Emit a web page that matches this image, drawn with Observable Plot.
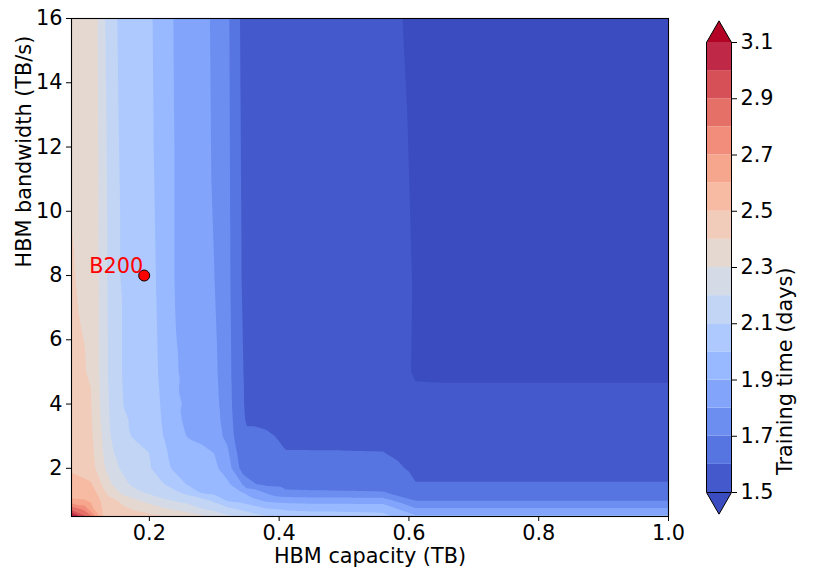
<!DOCTYPE html>
<html>
<head>
<meta charset="utf-8">
<script src="https://cdn.jsdelivr.net/npm/d3@7"></script>
<script src="https://cdn.jsdelivr.net/npm/@observablehq/plot@0.6"></script>
<style>
html, body { margin: 0; padding: 0; background: #ffffff; }
#chart { position: relative; width: 830px; height: 581px; }
#chart svg { position: absolute; left: 0; top: 0; }
</style>
</head>
<body>
<div id="chart"></div>
<script>
// ---- grid of the sampled design space ----
const capacityTB = [0.08, 0.10, 0.11, 0.12, 0.13, 0.14, 0.15, 0.16, 0.18, 0.20, 0.22, 0.24, 0.26,
                    0.28, 0.30, 0.32, 0.34, 0.35, 0.38, 0.41, 0.45, 0.50, 0.56, 0.61, 0.70, 1.00];
const bandwidthTBs = [0.5, 0.75, 1.0, 1.25, 1.5, 2.0, 2.5, 3.0, 3.5, 4.0, 4.5, 5.0, 8.0, 12.0, 16.0];

// ---- training time (days), one row per bandwidth, one value per capacity ----
const days_bw0_50 = [3.15, 2.92, 2.82, 2.64, 2.49, 2.48, 2.47, 2.46, 2.44, 2.43, 2.41, 2.38, 2.355, 2.32, 2.28, 2.22, 2.18, 2.16, 2.11, 2.06, 2.05, 2.04, 2.03, 1.92, 1.92, 1.92];
const days_bw0_75 = [2.85, 2.76, 2.63, 2.55, 2.48, 2.46, 2.44, 2.42, 2.38, 2.34, 2.31, 2.28, 2.24, 2.199, 2.16, 2.12, 2.08, 2.06, 2.001, 1.98, 1.97, 1.97, 1.965, 1.805, 1.805, 1.805];
const days_bw1_00 = [2.61, 2.605, 2.59, 2.53, 2.46, 2.43, 2.401, 2.36, 2.31, 2.27, 2.22, 2.19, 2.17, 2.14, 2.08, 1.99, 1.97, 1.95, 1.88, 1.86, 1.85, 1.85, 1.845, 1.695, 1.695, 1.695];
const days_bw1_25 = [2.57, 2.56, 2.545, 2.49, 2.42, 2.36, 2.32, 2.27, 2.22, 2.18, 2.14, 2.12, 2.06, 1.99, 1.97, 1.94, 1.91, 1.88, 1.79, 1.72, 1.715, 1.71, 1.705, 1.65, 1.65, 1.65];
const days_bw1_50 = [2.54, 2.52, 2.51, 2.45, 2.37, 2.31, 2.26, 2.225, 2.17, 2.14, 2.11, 2.05, 1.99, 1.97, 1.95, 1.92, 1.83, 1.72, 1.68, 1.665, 1.66, 1.66, 1.66, 1.603, 1.603, 1.603];
const days_bw2_0 = [2.485, 2.465, 2.44, 2.38, 2.31, 2.255, 2.21, 2.18, 2.15, 2.11, 2.04, 1.98, 1.96, 1.94, 1.92, 1.855, 1.69, 1.675, 1.655, 1.635, 1.632, 1.63, 1.63, 1.585, 1.585, 1.585];
const days_bw2_5 = [2.47, 2.45, 2.43, 2.36, 2.29, 2.21, 2.19, 2.16, 2.13, 2.098, 2.02, 1.97, 1.935, 1.915, 1.898, 1.82, 1.66, 1.64, 1.625, 1.602, 1.602, 1.602, 1.601, 1.565, 1.565, 1.565];
const days_bw3_0 = [2.46, 2.44, 2.42, 2.345, 2.28, 2.201, 2.18, 2.12, 2.085, 2.06, 2.005, 1.93, 1.895, 1.885, 1.845, 1.775, 1.63, 1.61, 1.61, 1.588, 1.585, 1.583, 1.58, 1.55, 1.55, 1.55];
const days_bw3_5 = [2.45, 2.43, 2.41, 2.335, 2.26, 2.19, 2.16, 2.11, 2.085, 2.055, 1.995, 1.915, 1.885, 1.875, 1.835, 1.76, 1.62, 1.594, 1.585, 1.582, 1.578, 1.575, 1.57, 1.535, 1.535, 1.535];
const days_bw4_0 = [2.445, 2.425, 2.405, 2.33, 2.25, 2.185, 2.15, 2.098, 2.08, 2.05, 1.99, 1.91, 1.89, 1.87, 1.83, 1.75, 1.615, 1.59, 1.585, 1.58, 1.575, 1.565, 1.555, 1.52, 1.52, 1.52];
const days_bw4_5 = [2.44, 2.42, 2.401, 2.325, 2.245, 2.18, 2.14, 2.095, 2.075, 2.045, 1.985, 1.904, 1.89, 1.865, 1.825, 1.745, 1.614, 1.59, 1.58, 1.575, 1.57, 1.56, 1.55, 1.505, 1.505, 1.505];
const days_bw5_0 = [2.435, 2.41, 2.37, 2.32, 2.24, 2.175, 2.135, 2.09, 2.07, 2.04, 1.98, 1.905, 1.885, 1.86, 1.82, 1.74, 1.612, 1.588, 1.575, 1.57, 1.565, 1.555, 1.545, 1.493, 1.49, 1.49];
const days_bw8 = [2.41, 2.375, 2.35, 2.315, 2.235, 2.17, 2.11, 2.09, 2.065, 2.03, 1.97, 1.895, 1.88, 1.85, 1.801, 1.73, 1.605, 1.58, 1.57, 1.565, 1.56, 1.55, 1.54, 1.495, 1.47, 1.47];
const days_bw12 = [2.385, 2.36, 2.34, 2.31, 2.225, 2.165, 2.105, 2.09, 2.06, 2.02, 1.96, 1.895, 1.875, 1.845, 1.785, 1.725, 1.602, 1.58, 1.565, 1.56, 1.555, 1.545, 1.535, 1.49, 1.46, 1.46];
const days_bw16 = [2.37, 2.35, 2.33, 2.305, 2.21, 2.155, 2.101, 2.085, 2.055, 2.015, 1.955, 1.89, 1.87, 1.84, 1.78, 1.72, 1.598, 1.575, 1.56, 1.555, 1.55, 1.54, 1.53, 1.48, 1.46, 1.45];

const dayRows = [days_bw0_50, days_bw0_75, days_bw1_00, days_bw1_25, days_bw1_50, days_bw2_0, days_bw2_5,
                 days_bw3_0, days_bw3_5, days_bw4_0, days_bw4_5, days_bw5_0, days_bw8, days_bw12, days_bw16];

// ---- annotated chip ----
const chips = [{name: "B200", capacity: 0.192, bandwidth: 8}];

// ---- contour levels and colours (coolwarm, extend both) ----
const levels = [1.5, 1.6, 1.7, 1.8, 1.9, 2.0, 2.1, 2.2, 2.3, 2.4, 2.5, 2.6, 2.7, 2.8, 2.9, 3.0, 3.1];
const belowLevel = 1.4;
const bandColors = ["#445acc", "#5775e1", "#6c8ef1", "#82a5fb", "#98b9ff", "#aec9fd", "#c2d5f4", "#d5dbe6",
                    "#e5d8d1", "#f1ccba", "#f7bba3", "#f7a68e", "#f18d7a", "#e57068", "#d55057", "#c02847"];
const underColor = "#3b4cc0";
const overColor = "#b40426";

// ---- ticks and texts ----
const xTicks = [0.2, 0.4, 0.6, 0.8, 1.0];
const yTicks = [2, 4, 6, 8, 10, 12, 14, 16];
const cbarTicks = [1.5, 1.7, 1.9, 2.1, 2.3, 2.5, 2.7, 2.9, 3.1];
const xLabel = "HBM capacity (TB)";
const yLabel = "HBM bandwidth (TB/s)";
const cbarLabel = "Training time (days)";

// ---- build tables from the arrays ----
const samples = [];
dayRows.forEach((row, j) => row.forEach((v, i) => samples.push({capacity: capacityTB[i], bandwidth: bandwidthTBs[j], days: v})));
const bands = levels.slice(0, -1).map((lo, i) => ({lo, hi: levels[i + 1]}));

const colorScale = {type: "threshold", domain: levels, range: [underColor, ...bandColors, overColor]};
const baseStyle = {fontFamily: "'DejaVu Sans', sans-serif", fontSize: "20.8px", color: "black", background: "transparent", overflow: "visible"};

const main = Plot.plot({
  width: 830, height: 581,
  marginLeft: 71, marginRight: 162, marginTop: 18, marginBottom: 65,
  style: baseStyle,
  x: {domain: [0.08, 1.0]},
  y: {domain: [0.5, 16]},
  color: colorScale,
  marks: [
    Plot.contour(samples, {
      x: "capacity", y: "bandwidth", fill: "days",
      thresholds: [belowLevel, ...levels],
      interpolate: "barycentric", pixelSize: 1, stroke: "none"
    }),
    Plot.frame({stroke: "black", strokeWidth: 1.1}),
    Plot.axisX({ticks: xTicks, tickFormat: ".1f", tickSize: 5, tickPadding: 4, label: null}),
    Plot.axisY({ticks: yTicks, tickSize: 5, tickPadding: 4, label: null}),
    Plot.dot(chips, {x: "capacity", y: "bandwidth", r: 5.5, fill: "red", stroke: "black", strokeWidth: 1}),
    Plot.text(chips, {x: "capacity", y: "bandwidth", text: "name", fill: "red", textAnchor: "end", lineAnchor: "bottom", dx: -1, dy: -3}),
    Plot.text([xLabel], {frameAnchor: "bottom", dy: 46, fill: "black"}),
    Plot.text([yLabel], {frameAnchor: "left", rotate: -90, dx: -47.5, fill: "black"})
  ]
});

const cbar = Plot.plot({
  width: 830, height: 581,
  marginLeft: 706, marginRight: 99, marginTop: 42, marginBottom: 89,
  style: baseStyle,
  x: {domain: [0, 1], axis: null},
  y: {domain: [levels[0], levels[levels.length - 1]]},
  color: colorScale,
  marks: [
    Plot.dot([levels[levels.length - 1]], {y: d => d, symbol: "triangle", r: 9.28, dy: -7.22, fill: overColor, stroke: "black", strokeWidth: 1}),
    Plot.dot([levels[0]], {y: d => d, symbol: "triangle", r: 9.28, rotate: 180, dy: 7.22, fill: underColor, stroke: "black", strokeWidth: 1}),
    Plot.barY(bands, {y1: "lo", y2: "hi", fill: "lo"}),
    Plot.ruleX([0, 1], {stroke: "black", strokeWidth: 1}),
    Plot.axisY({anchor: "right", ticks: cbarTicks, tickFormat: ".1f", tickSize: 5, tickPadding: 4, label: null}),
    Plot.text([cbarLabel], {frameAnchor: "right", rotate: -90, dx: 54.3, fill: "black"})
  ]
});

const chart = document.getElementById("chart");
chart.appendChild(main);
chart.appendChild(cbar);
</script>
</body>
</html>
